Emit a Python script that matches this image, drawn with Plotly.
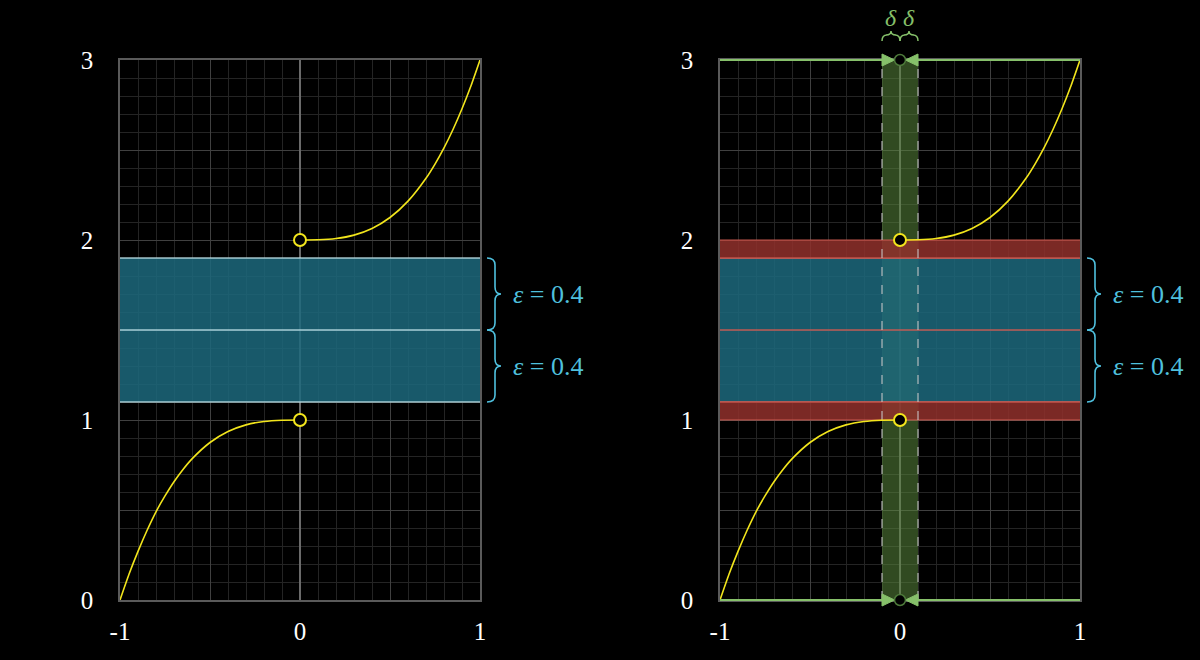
import plotly.graph_objects as go

# ---- data ----
h_left = [-1.0, -0.95, -0.9, -0.85, -0.8, -0.75, -0.7, -0.65, -0.6, -0.5, -0.4, -0.3, -0.2, -0.1, 0.0]
f_left = [0.0, 0.143, 0.27, 0.386, 0.49, 0.578, 0.657, 0.725, 0.784, 0.875, 0.936, 0.973, 0.992, 0.999, 1.0]
h_right = [0.0, 0.1, 0.2, 0.3, 0.4, 0.5, 0.6, 0.7, 0.75, 0.8, 0.85, 0.9, 0.95, 1.0]
f_right = [2.0, 2.001, 2.008, 2.027, 2.064, 2.125, 2.216, 2.343, 2.422, 2.512, 2.614, 2.729, 2.857, 3.0]
hole_x = [0, 0]
hole_y = [1, 2]
limit_L = 1.5
eps = 0.4
delta = 0.1
y_min, y_max = 0, 3
x_ticks = [-1, -0.5, 0, 0.5, 1]
x_text = ["-1", "", "0", "", "1"]
y_ticks = [0, 0.5, 1, 1.5, 2, 2.5, 3]
y_text = ["0", "", "1", "", "2", "", "3"]

YEL = "#f2e51c"
CYAN = "#4fc0de"
GREEN = "#86c06a"
FONT = "Liberation Serif"

W, H = 1200, 660
PX_Y = 180.0  # pixels per y unit
ybot_dom = 60 / H
ytop_dom = 600 / H


def ypaper(v):
    return ybot_dom + (v - y_min) / (y_max - y_min) * (ytop_dom - ybot_dom)


fig = go.Figure()

for ax in ["", "2"]:
    xa = "x" + ax
    ya = "y" + ax
    fig.add_trace(go.Scatter(x=h_left, y=f_left, mode="lines", line=dict(color=YEL, width=1.6, shape="spline", smoothing=0.6),
                             xaxis=xa, yaxis=ya, hoverinfo="skip", showlegend=False))
    fig.add_trace(go.Scatter(x=h_right, y=f_right, mode="lines", line=dict(color=YEL, width=1.6, shape="spline", smoothing=0.6),
                             xaxis=xa, yaxis=ya, hoverinfo="skip", showlegend=False))

for ax in ["", "2"]:
    fig.add_trace(go.Scatter(x=hole_x, y=hole_y, mode="markers",
                             marker=dict(size=12, color="black", line=dict(color=YEL, width=2)),
                             xaxis="x" + ax, yaxis="y" + ax, cliponaxis=False, hoverinfo="skip", showlegend=False))

shapes = []
# green delta band (drawn first, under the epsilon bands)
shapes.append(dict(type="rect", xref="x2", yref="y2", x0=-delta, x1=delta, y0=y_min, y1=y_max,
                   fillcolor="rgba(90,135,60,0.55)", line=dict(width=0), layer="between"))

# epsilon band (both panels)
for ax, linec in [("", "rgba(190,225,232,0.85)"), ("2", "rgba(210,90,80,0.9)")]:
    xr, yr = "x" + ax, "y" + ax
    shapes.append(dict(type="rect", xref=xr, yref=yr, x0=-1, x1=1, y0=limit_L - eps, y1=limit_L + eps,
                       fillcolor="rgba(28,105,125,0.85)", line=dict(width=0), layer="between"))
    for yv in [limit_L - eps, limit_L, limit_L + eps]:
        shapes.append(dict(type="line", xref=xr, yref=yr, x0=-1, x1=1, y0=yv, y1=yv,
                           line=dict(color=linec, width=1.5), layer="between"))

# red bands on right panel
red_bands = [(limit_L + eps, hole_y[1]), (hole_y[0], limit_L - eps)]
for y0, y1 in red_bands:
    shapes.append(dict(type="rect", xref="x2", yref="y2", x0=-1, x1=1, y0=y0, y1=y1,
                       fillcolor="rgba(145,48,43,0.85)", line=dict(width=0), layer="between"))
    for yv in [y0, y1]:
        shapes.append(dict(type="line", xref="x2", yref="y2", x0=-1, x1=1, y0=yv, y1=yv,
                           line=dict(color="rgba(215,95,85,0.9)", width=1.2), layer="between"))

# dashed delta lines
for xv in [-delta, delta]:
    shapes.append(dict(type="line", xref="x2", yref="y2", x0=xv, x1=xv, y0=y_min, y1=y_max,
                       line=dict(color="rgba(200,200,200,0.7)", width=1.5, dash="dash"), layer="between"))
# green horizontal lines (paper y so they are not clipped)
for yv in [y_min, y_max]:
    shapes.append(dict(type="line", xref="x2", yref="paper", x0=-1, x1=1, y0=ypaper(yv), y1=ypaper(yv),
                       line=dict(color=GREEN, width=2), layer="above"))
# arrow heads
ah = 6.0 / H
aw = 0.07
for yv in [y_min, y_max]:
    yp = ypaper(yv)
    for s in [-1, 1]:
        xb = s * delta
        xt = s * (delta - aw)
        shapes.append(dict(type="path", xref="x2", yref="paper",
                           path=f"M {xb} {yp + ah} L {xt} {yp} L {xb} {yp - ah} Z",
                           fillcolor=GREEN, line=dict(color=GREEN, width=1), layer="above"))
# open circles at the delta band ends
for yv in [y_min, y_max]:
    shapes.append(dict(type="circle", xref="x2", yref="paper", xsizemode="pixel", ysizemode="pixel",
                       xanchor=0, yanchor=ypaper(yv), x0=-5.5, x1=5.5, y0=-5.5, y1=5.5,
                       fillcolor="black", line=dict(color="#4d7a3a", width=1.5), layer="above"))


def vbrace(x0px, ytop, ybot, yref):
    x0 = x0px / W
    hx = 8 / W
    dx = 14 / W
    r = 7 / PX_Y
    ym = (ytop + ybot) / 2
    p = (f"M {x0},{ytop} Q {x0+hx},{ytop} {x0+hx},{ytop-r} L {x0+hx},{ym+r} "
         f"Q {x0+hx},{ym} {x0+dx},{ym} Q {x0+hx},{ym} {x0+hx},{ym-r} "
         f"L {x0+hx},{ybot+r} Q {x0+hx},{ybot} {x0},{ybot}")
    return dict(type="path", xref="paper", yref=yref, path=p, line=dict(color=CYAN, width=1.6), layer="above")


for x0px, yr in [(487, "y"), (1087, "y2")]:
    shapes.append(vbrace(x0px, limit_L + eps, limit_L, yr))
    shapes.append(vbrace(x0px, limit_L, limit_L - eps, yr))


def hbrace(xl, xr):
    yb = 1 - 41 / H
    hy = 6 / H
    dy = 10 / H
    r = 5 / 180.0
    xm = (xl + xr) / 2
    p = (f"M {xl},{yb} Q {xl},{yb+hy} {xl+r},{yb+hy} L {xm-r},{yb+hy} "
         f"Q {xm},{yb+hy} {xm},{yb+dy} Q {xm},{yb+hy} {xm+r},{yb+hy} "
         f"L {xr-r},{yb+hy} Q {xr},{yb+hy} {xr},{yb}")
    return dict(type="path", xref="x2", yref="paper", path=p, line=dict(color=GREEN, width=1.5), layer="above")


shapes.append(hbrace(-delta, 0))
shapes.append(hbrace(0, delta))

annotations = []
for xr, yr, xpx in [("paper", "y", 511), ("paper", "y2", 1111)]:
    for yv in [limit_L + eps / 2, limit_L - eps / 2]:
        annotations.append(dict(x=xpx / W, y=yv, xref=xr, yref=yr, xanchor="left", yanchor="middle",
                                text=f"<i>ε</i> = {eps}", showarrow=False,
                                font=dict(family=FONT, size=26, color=CYAN)))
for xv in [-delta / 2, delta / 2]:
    annotations.append(dict(x=xv, y=1 - 18 / H, xref="x2", yref="paper", xanchor="center", yanchor="middle",
                            text="<i>δ</i>", showarrow=False, font=dict(family=FONT, size=24, color=GREEN)))
title_txt = (f"<span style='color:{YEL}'><b><i>f</i></b></span><span style='color:white'>(</span>"
             f"<span style='color:{GREEN}'><i>h</i></span><span style='color:white'>)</span>")
for xr in ["x", "x2"]:
    annotations.append(dict(x=1.03, y=1 - 30 / H, xref=xr, yref="paper", xanchor="center", yanchor="middle",
                            text=title_txt, showarrow=False, font=dict(family=FONT, size=25, color="white")))

axis_common = dict(showgrid=True, gridcolor="#404040", gridwidth=1,
                   minor=dict(dtick=0.1, showgrid=True, gridcolor="#242424", gridwidth=1),
                   showline=True, linecolor="#5a5a5a", linewidth=1.5, mirror=True,
                   ticks="", tickfont=dict(family=FONT, size=25, color="white"),
                   fixedrange=True, automargin=False)

layout = dict(
    width=W, height=H, autosize=False, paper_bgcolor="black", plot_bgcolor="black",
    margin=dict(l=0, r=0, t=0, b=0, pad=0, autoexpand=False), showlegend=False,
    shapes=shapes, annotations=annotations,
    xaxis=dict(domain=[120 / W, 480 / W], range=[-1, 1], anchor="y", tickvals=x_ticks, ticktext=x_text,
               zeroline=True, zerolinecolor="#6a6a6a", zerolinewidth=1.5, ticklabelstandoff=8, **axis_common),
    yaxis=dict(domain=[ybot_dom, ytop_dom], range=[y_min, y_max], anchor="x", tickvals=y_ticks, ticktext=y_text,
               zeroline=False, ticklabelstandoff=20, **axis_common),
    xaxis2=dict(domain=[720 / W, 1080 / W], range=[-1, 1], anchor="y2", tickvals=x_ticks, ticktext=x_text,
                zeroline=True, zerolinecolor="#6a6a6a", zerolinewidth=1.5, ticklabelstandoff=8, **axis_common),
    yaxis2=dict(domain=[ybot_dom, ytop_dom], range=[y_min, y_max], anchor="x2", tickvals=y_ticks, ticktext=y_text,
                zeroline=False, ticklabelstandoff=20, **axis_common),
)
fig.update_layout(**layout)
fig.write_html("out.html", config={"displayModeBar": False},
               post_script="document.documentElement.style.margin='0';document.body.style.margin='0';"
                           "document.body.style.overflow='hidden';document.body.style.background='black';")
